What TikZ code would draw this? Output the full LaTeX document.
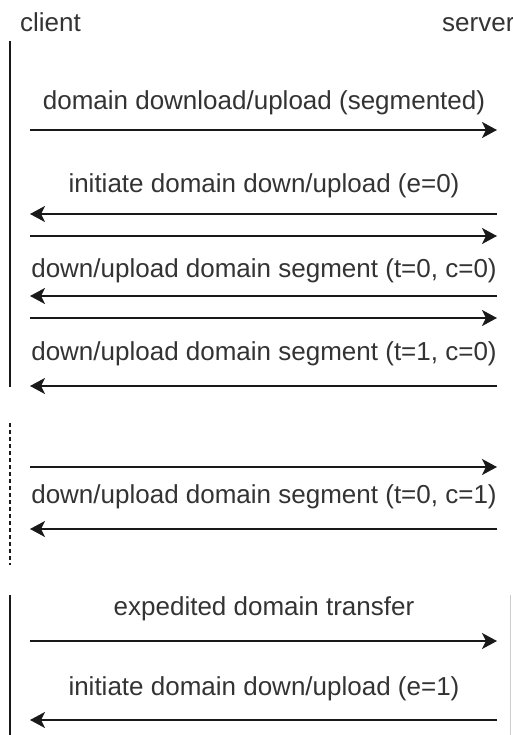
\documentclass[tikz,border=0pt]{standalone}
\usepackage{fontspec}
\setmainfont{Liberation Sans}
\usepackage{xcolor}
\usepackage{tikz}
\usetikzlibrary{arrows.meta,positioning,calc}

\definecolor{txtgray}{HTML}{333333}

\tikzset{
    lifeline/.style={line width=1.8pt, black!90},
    msg/.style={line width=1.8pt, black!90, -{Stealth[length=15pt,width=16pt,inset=4pt]}},
    lbl/.style={inner sep=0pt, anchor=base, text=txtgray, font=\fontsize{26}{30}\selectfont},
}

\begin{document}
\begin{tikzpicture}[x=1pt, y=-1pt]
    \useasboundingbox (0,0) rectangle (513,735);

    % Participants
    \node[lbl, anchor=base west] (client) at (20,32) {client};
    \node[lbl, anchor=base west] (server) at (442,32) {server};

    % Client lifeline (solid, dashed, solid)
    \coordinate (l1) at (10,41);  \coordinate (l2) at (10,387);
    \coordinate (l3) at (10,423); \coordinate (l4) at (10,565);
    \coordinate (l5) at (10,595); \coordinate (l6) at (10,735);
    \draw[lifeline] (l1) -- (l2);
    \draw[lifeline, dash pattern=on 4pt off 3pt] (l3) -- (l4);
    \draw[lifeline] (l5) -- (l6);
    \coordinate (r1) at (510,595); \coordinate (r2) at (510,735);
    \draw[black!20, line width=1pt] (r1) -- (r2);

    % Message end points
    \foreach \n/\y in {a/130, b/214, c/236, d/296, e/318, f/386, g/467, h/529, i/641, j/720} {
        \coordinate (c\n) at (30,\y);
        \coordinate (s\n) at (497,\y);
    }

    % Segmented transfer
    \node[lbl] (seg) at (264,110) {domain download/upload (segmented)};
    \draw[msg] (ca) -- (sa);
    \node[lbl] (init0) at (264,193) {initiate domain down/upload (e=0)};
    \draw[msg] (sb) -- (cb);
    \draw[msg] (cc) -- (sc);
    \node[lbl] (seg00) at (264,277) {down/upload domain segment (t=0, c=0)};
    \draw[msg] (sd) -- (cd);
    \draw[msg] (ce) -- (se);
    \node[lbl] (seg10) at (264,360) {down/upload domain segment (t=1, c=0)};
    \draw[msg] (sf) -- (cf);

    % Last segment
    \draw[msg] (cg) -- (sg);
    \node[lbl] (seg01) at (264,503) {down/upload domain segment (t=0, c=1)};
    \draw[msg] (sh) -- (ch);

    % Expedited transfer
    \node[lbl] (exp) at (264,615) {expedited domain transfer};
    \draw[msg] (ci) -- (si);
    \node[lbl] (init1) at (264,695) {initiate domain down/upload (e=1)};
    \draw[msg] (sj) -- (cj);
\end{tikzpicture}
\end{document}
